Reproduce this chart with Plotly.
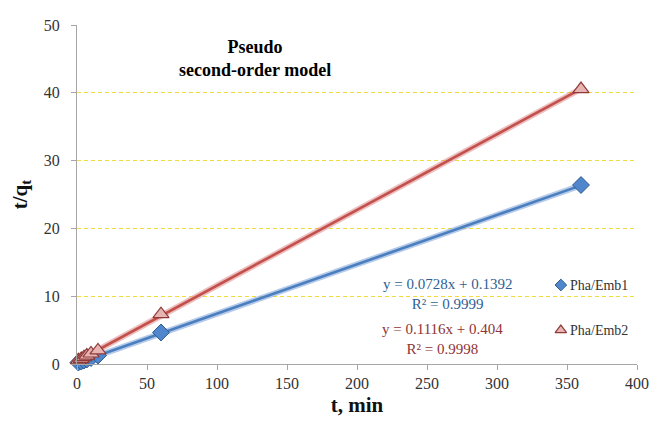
import plotly.graph_objects as go

# Contact time (min) and t/qt for the two adsorbents
t_min = [1, 3, 5, 7, 10, 15, 60, 360]
emb1_tq = [0.22, 0.36, 0.52, 0.66, 0.88, 1.25, 4.65, 26.4]
emb2_tq = [0.55, 0.75, 1.0, 1.25, 1.55, 2.0, 7.35, 40.55]

# Linear fits (pseudo second-order model)
emb1_slope, emb1_icpt, emb1_r2 = 0.0728, 0.1392, 0.9999
emb2_slope, emb2_icpt, emb2_r2 = 0.1116, 0.404, 0.9998

series_names = ["Pha/Emb1", "Pha/Emb2"]
x_ticks = [0, 50, 100, 150, 200, 250, 300, 350, 400]
y_ticks = [0, 10, 20, 30, 40, 50]

SERIF = "Liberation Serif"
BLUE_LINE, BLUE_GLOW = "#4a7ebf", "rgba(120,160,215,0.55)"
RED_LINE, RED_GLOW = "#c4504c", "rgba(220,140,140,0.55)"
BLUE_MK = dict(symbol="diamond", color="#4f86cc", line=dict(color="#2f5a90", width=1))
RED_MK = dict(symbol="triangle-up", color="#e8b4b2", line=dict(color="#8e3a38", width=1.2))

fig = go.Figure()

def fit_line(slope, icpt, xs):
    x0, x1 = xs[0], xs[-1]
    return [x0, x1], [slope * x0 + icpt, slope * x1 + icpt]

for slope, icpt, glow, col in [(emb1_slope, emb1_icpt, BLUE_GLOW, BLUE_LINE),
                               (emb2_slope, emb2_icpt, RED_GLOW, RED_LINE)]:
    lx, ly = fit_line(slope, icpt, t_min)
    fig.add_trace(go.Scatter(x=lx, y=ly, mode="lines", showlegend=False,
                             line=dict(color=glow, width=6), hoverinfo="skip"))
    fig.add_trace(go.Scatter(x=lx, y=ly, mode="lines", showlegend=False,
                             line=dict(color=col, width=2.6), hoverinfo="skip"))

fig.add_trace(go.Scatter(x=t_min, y=emb1_tq, mode="markers", name=series_names[0],
                         showlegend=False, cliponaxis=False,
                         marker=dict(size=13, **BLUE_MK)))
fig.add_trace(go.Scatter(x=t_min, y=emb2_tq, mode="markers", name=series_names[1],
                         showlegend=False, cliponaxis=False,
                         marker=dict(size=14, **RED_MK)))

# Key: small symbols on an overlay axis spanning the plot area, labels as text
key_x, key_y = 0.864, [0.233, 0.100]
fig.add_trace(go.Scatter(x=[key_x], y=[key_y[0]], xaxis="x2", yaxis="y2",
                         mode="markers", showlegend=False, hoverinfo="skip",
                         cliponaxis=False, marker=dict(size=9, **BLUE_MK)))
fig.add_trace(go.Scatter(x=[key_x], y=[key_y[1]], xaxis="x2", yaxis="y2",
                         mode="markers", showlegend=False, hoverinfo="skip",
                         cliponaxis=False, marker=dict(size=10, **RED_MK)))
for name, ky in zip(series_names, key_y):
    fig.add_annotation(x=key_x + 0.012, y=ky, xref="paper", yref="paper",
                       text=name, showarrow=False, xanchor="left", yanchor="middle",
                       font=dict(family=SERIF, size=14, color="#333"))

fig.add_annotation(x=0.318, y=0.97, xref="paper", yref="paper",
                   text="<b>Pseudo<br>second-order model</b>", showarrow=False,
                   font=dict(family=SERIF, size=18, color="#000"),
                   align="center", xanchor="center", yanchor="top")

fig.add_annotation(x=0.661, y=0.207, xref="paper", yref="paper",
                   text=f"y = {emb1_slope}x + {emb1_icpt}<br>R² = {emb1_r2}",
                   showarrow=False, align="center", xanchor="center", yanchor="middle",
                   font=dict(family=SERIF, size=15, color="#2f5f94"))
fig.add_annotation(x=0.652, y=0.074, xref="paper", yref="paper",
                   text=f"y = {emb2_slope}x + {emb2_icpt}<br>R² = {emb2_r2}",
                   showarrow=False, align="center", xanchor="center", yanchor="middle",
                   font=dict(family=SERIF, size=15, color="#8e3436"))

fig.update_layout(
    width=654, height=424,
    margin=dict(l=77, r=17, t=25, b=60, autoexpand=False),
    paper_bgcolor="white", plot_bgcolor="white",
    font=dict(family=SERIF, size=15, color="#333"),
    showlegend=False,
    xaxis=dict(range=[0, 400], tickvals=x_ticks, showgrid=False, zeroline=False,
               automargin=False,
               showline=True, linecolor="#a6a6a6", linewidth=1.2,
               ticks="outside", ticklen=5, tickcolor="#a6a6a6",
               tickfont=dict(family=SERIF, size=16, color="#333"),
               title=dict(text="<b>t, min</b>", standoff=6,
                          font=dict(family=SERIF, size=21, color="#111"))),
    yaxis=dict(range=[0, 50], tickvals=y_ticks, zeroline=False, automargin=False,
               showgrid=True, gridcolor="#f2dc3c", griddash="4px,3px", gridwidth=1,
               showline=True, linecolor="#a6a6a6", linewidth=1.2,
               ticks="outside", ticklen=5, tickcolor="#a6a6a6", ticklabelstandoff=8,
               tickfont=dict(family=SERIF, size=16, color="#333"),
               title=dict(text="<b>t/q<sub>t</sub></b>", standoff=10,
                          font=dict(family=SERIF, size=21, color="#111"))),
    xaxis2=dict(overlaying="x", range=[0, 1], visible=False, fixedrange=True),
    yaxis2=dict(overlaying="y", range=[0, 1], visible=False, fixedrange=True),
)

fig.write_html("out.html")
